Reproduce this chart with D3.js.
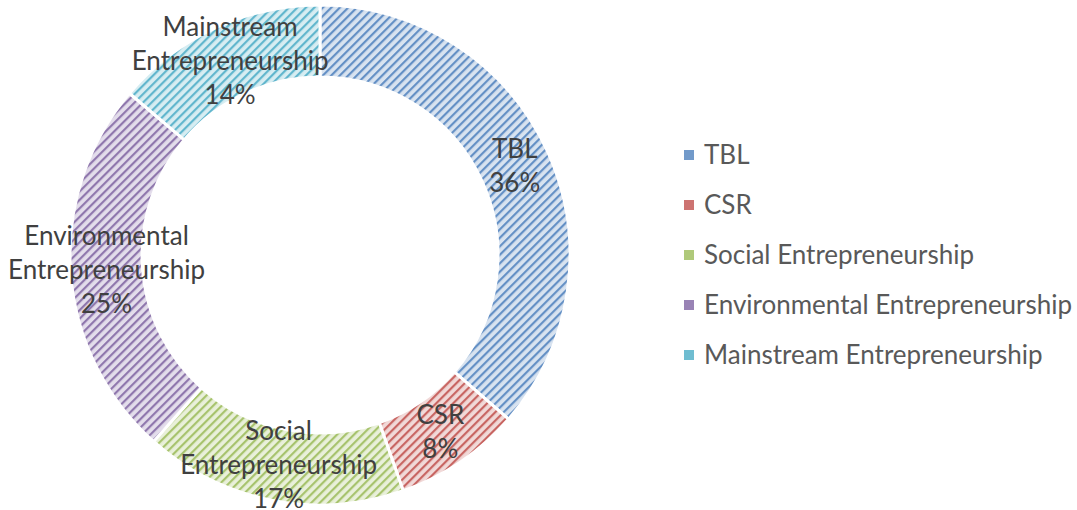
<!DOCTYPE html>
<html>
<head>
<meta charset="utf-8">
<script src="https://cdn.jsdelivr.net/npm/d3@7"></script>
<style>
  body { margin: 0; background: #fff; }
  svg { display: block; }
  text { font-family: Lato, "Open Sans", sans-serif; }
</style>
</head>
<body>
<svg id="chart" width="1077" height="510"></svg>
<script>
// data (share of the ring, percent)
var categories = ["TBL", "CSR", "Social Entrepreneurship", "Environmental Entrepreneurship", "Mainstream Entrepreneurship"];
var values = [36.4, 8.2, 17.0, 24.6, 13.8];
// how the in-ring labels break into lines
var labelLines = [["TBL"], ["CSR"], ["Social", "Entrepreneurship"], ["Environmental", "Entrepreneurship"], ["Mainstream", "Entrepreneurship"]];
var colors = ["#4f81bd", "#c0504d", "#9bbb59", "#8064a2", "#4bacc6"];

var width = 1077, height = 510,
  cx = 320, cy = 255,
  outerR = 250, innerR = 178,
  fontSize = 26, lineH = 34;

var svg = d3.select("#chart");
var total = d3.sum(values);

// striped fills, one per series
var defs = svg.append("defs");
colors.forEach(function (c, i) {
  var p = defs.append("pattern")
    .attr("id", "hatch" + i)
    .attr("patternUnits", "userSpaceOnUse")
    .attr("width", 6).attr("height", 6)
    .attr("patternTransform", "rotate(45)");
  p.append("rect").attr("width", 6).attr("height", 6)
    .attr("fill", d3.interpolateRgb(c, "#fff")(0.78));
  p.append("rect").attr("x", 0).attr("width", 2.2).attr("height", 6)
    .attr("fill", d3.interpolateRgb(c, "#fff")(0.12));
});

var pie = d3.pie().sort(null).value(function (d) { return d; });
var arcs = pie(values);
var arc = d3.arc().innerRadius(innerR).outerRadius(outerR);
var mid = d3.arc().innerRadius((innerR + outerR) / 2).outerRadius((innerR + outerR) / 2);

var g = svg.append("g").attr("transform", "translate(" + cx + "," + cy + ")");

g.selectAll("path.slice")
  .data(arcs)
  .enter().append("path")
  .attr("class", "slice")
  .attr("d", arc)
  .attr("fill", function (d, i) { return "url(#hatch" + i + ")"; })
  .attr("stroke", "#fff")
  .attr("stroke-width", 3)
  .attr("stroke-linejoin", "round");

var lab = g.selectAll("text.lab")
  .data(arcs)
  .enter().append("text")
  .attr("class", "lab")
  .attr("text-anchor", "middle")
  .attr("fill", "#404040")
  .style("font-size", fontSize + "px")
  .attr("transform", function (d) { return "translate(" + mid.centroid(d) + ")"; });

lab.each(function (d, i) {
  var lines = labelLines[i].concat([Math.round(d.value / total * 100) + "%"]);
  var t = d3.select(this);
  var top = -(lines.length - 1) * lineH / 2;
  lines.forEach(function (s, k) {
    t.append("tspan")
      .attr("x", 0)
      .attr("y", top + k * lineH)
      .attr("dy", "0.35em")
      .text(s);
  });
});

// legend
var legend = svg.append("g").attr("transform", "translate(684,155)");
var item = legend.selectAll("g")
  .data(categories)
  .enter().append("g")
  .attr("transform", function (d, i) { return "translate(0," + i * 50 + ")"; });

item.append("rect")
  .attr("x", 0).attr("y", -5)
  .attr("width", 10).attr("height", 10)
  .attr("fill", function (d, i) { return colors[i]; })
  .attr("opacity", 0.8);

item.append("text")
  .attr("x", 20)
  .attr("dy", "0.35em")
  .attr("fill", "#595959")
  .style("font-size", fontSize + "px")
  .text(function (d) { return d; });
</script>
</body>
</html>
